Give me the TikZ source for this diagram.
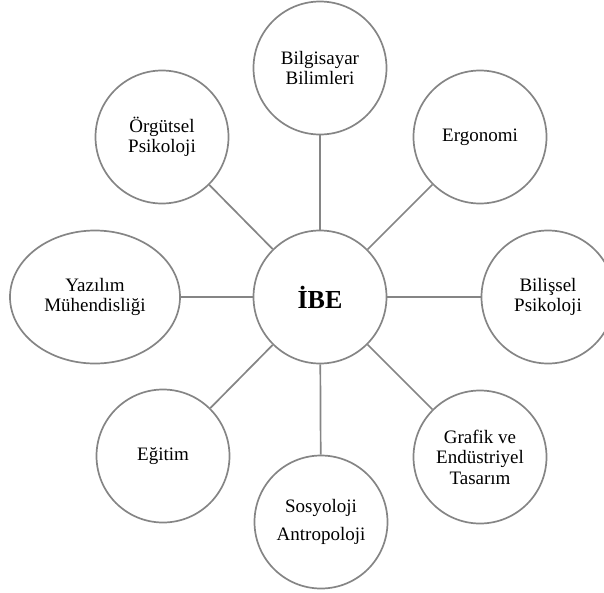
\documentclass[tikz,border=0pt]{standalone}
\usepackage{fontspec}
\setmainfont{Liberation Serif}
\usetikzlibrary{shapes.geometric}

\begin{document}
\begin{tikzpicture}[x=1pt,y=-1pt,
    alan/.style={circle,draw=black!48,line width=1.7pt,minimum size=133pt,
      inner sep=0pt,align=center,font=\fontsize{19}{20.5}\selectfont},
    bag/.style={draw=black!48,line width=1.7pt}]
  \useasboundingbox (0,0) rectangle (604,592);
  % centre
  \node[alan,font=\fontsize{26}{28}\selectfont\bfseries] (ibe) at (320,297) {İBE};
  % disciplines around it
  \node[alan] (bilgisayar) at (320,68) {Bilgisayar\\Bilimleri};
  \node[alan] (ergonomi) at (480,137) {Ergonomi};
  \node[alan] (bilissel) at (548,297) {Bilişsel\\Psikoloji};
  \node[alan] (grafik) at (480,457) {Grafik ve\\Endüstriyel\\Tasarım};
  \node[alan] (sosyoloji) at (321,522) {Sosyoloji\\[7pt]Antropoloji};
  \node[alan] (egitim) at (163,456) {Eğitim};
  \node[alan,ellipse,minimum width=170pt,minimum height=133pt] (yazilim) at (95,297) {Yazılım\\Mühendisliği};
  \node[alan] (orgutsel) at (162,137) {Örgütsel\\Psikoloji};
  \foreach \n in {bilgisayar,ergonomi,bilissel,grafik,sosyoloji,egitim,yazilim,orgutsel}
    \draw[bag] (ibe) -- (\n);
\end{tikzpicture}
\end{document}
